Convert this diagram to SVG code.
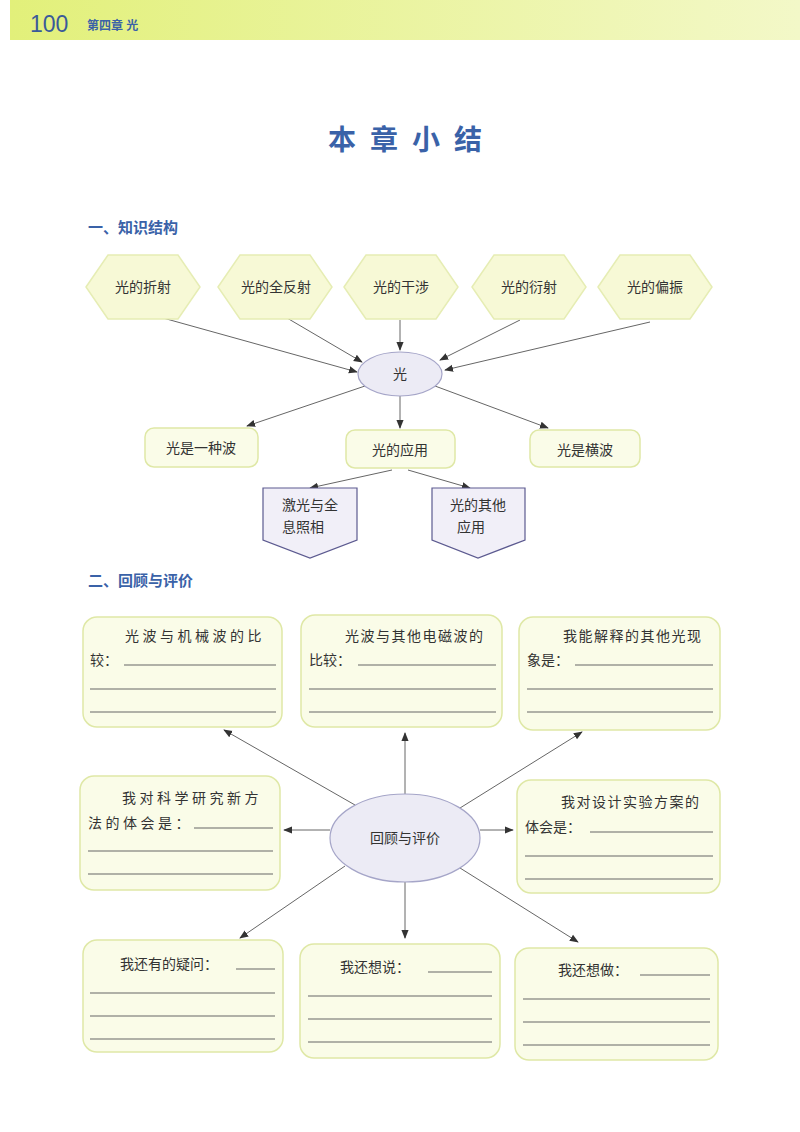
<svg xmlns="http://www.w3.org/2000/svg" width="800" height="1132" viewBox="0 0 800 1132">
<defs>
<linearGradient id="hb" x1="0" x2="1" y1="0" y2="0"><stop offset="0" stop-color="#e2f07a"/><stop offset="1" stop-color="#f3f8c8"/></linearGradient>
<marker id="ar" viewBox="0 0 10 10" refX="9" refY="5" markerWidth="9" markerHeight="9" orient="auto" markerUnits="userSpaceOnUse"><path d="M0,1 L10,5 L0,9 z" fill="#333"/></marker>
<style>
text{font-family:"Liberation Sans","Noto Sans CJK SC",sans-serif;fill:#333;font-size:14px}
.hd{fill:#3a62a8;font-weight:bold}
.hex{fill:#f7f9d6;stroke:#e6edb4;stroke-width:1.5}
.ell{fill:#ecebf5;stroke:#a5a5c8;stroke-width:1.2}
.box{fill:#fafce8;stroke:#dfe8a6;stroke-width:1.5}
.pen{fill:#f1eff8;stroke:#5c5a90;stroke-width:1.2}
.ln{stroke:#666;stroke-width:1}
.c line{stroke:#666;stroke-width:1;marker-end:url(#ar)}
.m{text-anchor:middle}
</style>
</defs>
<rect width="800" height="1132" fill="#fff"/>
<rect x="10" y="0" width="790" height="40" fill="url(#hb)"/>
<text x="30" y="32" style="font-size:23px;fill:#3a5a9a">100</text>
<text x="87" y="30" class="hd" style="font-size:12px">第四章  光</text>
<text x="412" y="150" class="hd m" style="font-size:28px;letter-spacing:14px">本章小结</text>
<text x="88" y="233" class="hd" style="font-size:15px">一、知识结构</text>
<text x="88" y="586" class="hd" style="font-size:15px">二、回顾与评价</text>

<g class="c">
<line x1="163" y1="318" x2="357" y2="372"/>
<line x1="287" y1="318" x2="362" y2="362"/>
<line x1="400" y1="320" x2="400" y2="350"/>
<line x1="520" y1="320" x2="440" y2="360"/>
<line x1="650" y1="322" x2="445" y2="370"/>
<line x1="365" y1="386" x2="247" y2="426"/>
<line x1="400" y1="396" x2="400" y2="428"/>
<line x1="435" y1="386" x2="548" y2="428"/>
<line x1="392" y1="470" x2="310" y2="488"/>
<line x1="408" y1="470" x2="470" y2="488"/>
<line x1="355" y1="805" x2="224" y2="730"/>
<line x1="405" y1="794" x2="405" y2="733"/>
<line x1="460" y1="808" x2="582" y2="732"/>
<line x1="330" y1="830" x2="284" y2="830"/>
<line x1="480" y1="830" x2="513" y2="830"/>
<line x1="345" y1="866" x2="240" y2="938"/>
<line x1="405" y1="882" x2="405" y2="938"/>
<line x1="460" y1="868" x2="578" y2="942"/>
</g>

<g id="h1"><polygon class="hex" points="86,287 108,255 178,255 200,287 178,319 108,319"/><text x="143" y="292" class="m">光的折射</text></g>
<g id="h2"><polygon class="hex" points="218,287 240,255 310,255 332,287 310,319 240,319"/><text x="276" y="292" class="m">光的全反射</text></g>
<g id="h3"><polygon class="hex" points="344,287 366,255 436,255 458,287 436,319 366,319"/><text x="401" y="292" class="m">光的干涉</text></g>
<g id="h4"><polygon class="hex" points="472,287 494,255 564,255 586,287 564,319 494,319"/><text x="529" y="292" class="m">光的衍射</text></g>
<g id="h5"><polygon class="hex" points="598,287 620,255 690,255 712,287 690,319 620,319"/><text x="655" y="292" class="m">光的偏振</text></g>
<g id="guang"><ellipse class="ell" cx="400" cy="374" rx="42" ry="22"/><text x="400" y="379" class="m">光</text></g>
<g id="b1"><rect class="box" x="145" y="428" width="113" height="39" rx="9"/><text x="201" y="453" class="m">光是一种波</text></g>
<g id="b2"><rect class="box" x="346" y="430" width="109" height="38" rx="9"/><text x="400" y="455" class="m">光的应用</text></g>
<g id="b3"><rect class="box" x="530" y="430" width="110" height="37" rx="9"/><text x="585" y="455" class="m">光是横波</text></g>
<g id="p1"><polygon class="pen" points="263,488 357,488 357,540 310,558 263,540"/><text x="310" y="510" class="m">激光与全</text><text x="303" y="532" class="m">息照相</text></g>
<g id="p2"><polygon class="pen" points="432,488 525,488 525,540 478,558 432,540"/><text x="478" y="510" class="m">光的其他</text><text x="471" y="532" class="m">应用</text></g>

<g id="r1"><rect class="box" x="83" y="617" width="199" height="110" rx="14"/>
<text x="125" y="641" style="letter-spacing:3.5px">光波与机械波的比</text><text x="90" y="665">较：</text>
<line class="ln" x1="124" y1="665" x2="276" y2="665"/><line class="ln" x1="90" y1="689" x2="276" y2="689"/><line class="ln" x1="90" y1="712" x2="276" y2="712"/></g>
<g id="r2"><rect class="box" x="301" y="615" width="201" height="112" rx="14"/>
<text x="345" y="641" style="letter-spacing:1.5px">光波与其他电磁波的</text><text x="309" y="665">比较：</text>
<line class="ln" x1="358" y1="665" x2="496" y2="665"/><line class="ln" x1="309" y1="689" x2="496" y2="689"/><line class="ln" x1="309" y1="712" x2="496" y2="712"/></g>
<g id="r3"><rect class="box" x="519" y="617" width="201" height="113" rx="14"/>
<text x="563" y="641" style="letter-spacing:1.5px">我能解释的其他光现</text><text x="527" y="665">象是：</text>
<line class="ln" x1="575" y1="665" x2="713" y2="665"/><line class="ln" x1="527" y1="689" x2="713" y2="689"/><line class="ln" x1="527" y1="712" x2="713" y2="712"/></g>
<g id="r4"><rect class="box" x="80" y="776" width="200" height="114" rx="14"/>
<text x="122" y="803" style="letter-spacing:3.5px">我对科学研究新方</text><text x="88" y="828" style="letter-spacing:3.5px">法的体会是：</text>
<line class="ln" x1="194" y1="828" x2="273" y2="828"/><line class="ln" x1="88" y1="851" x2="273" y2="851"/><line class="ln" x1="88" y1="874" x2="273" y2="874"/></g>
<g id="r5"><rect class="box" x="517" y="780" width="203" height="113" rx="14"/>
<text x="561" y="807" style="letter-spacing:1.5px">我对设计实验方案的</text><text x="525" y="832">体会是：</text>
<line class="ln" x1="590" y1="832" x2="713" y2="832"/><line class="ln" x1="525" y1="856" x2="713" y2="856"/><line class="ln" x1="525" y1="879" x2="713" y2="879"/></g>
<g id="r6"><rect class="box" x="83" y="940" width="200" height="112" rx="14"/>
<text x="120" y="969">我还有的疑问：</text>
<line class="ln" x1="236" y1="969" x2="275" y2="969"/><line class="ln" x1="90" y1="993" x2="275" y2="993"/><line class="ln" x1="90" y1="1016" x2="275" y2="1016"/><line class="ln" x1="90" y1="1039" x2="275" y2="1039"/></g>
<g id="r7"><rect class="box" x="300" y="944" width="200" height="114" rx="14"/>
<text x="340" y="972">我还想说：</text>
<line class="ln" x1="428" y1="972" x2="492" y2="972"/><line class="ln" x1="308" y1="996" x2="492" y2="996"/><line class="ln" x1="308" y1="1019" x2="492" y2="1019"/><line class="ln" x1="308" y1="1042" x2="492" y2="1042"/></g>
<g id="r8"><rect class="box" x="515" y="948" width="203" height="112" rx="14"/>
<text x="558" y="975">我还想做：</text>
<line class="ln" x1="640" y1="975" x2="710" y2="975"/><line class="ln" x1="523" y1="999" x2="710" y2="999"/><line class="ln" x1="523" y1="1022" x2="710" y2="1022"/><line class="ln" x1="523" y1="1045" x2="710" y2="1045"/></g>
<g id="center"><ellipse class="ell" cx="405" cy="838" rx="75" ry="44"/><text x="405" y="843" class="m">回顾与评价</text></g>
</svg>
